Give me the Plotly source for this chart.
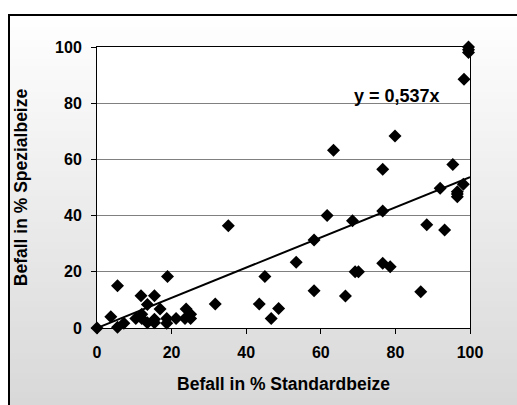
import plotly.graph_objects as go

# Befall (%) mit Standardbeize vs. Spezialbeize
standard = [0, 3.7, 5.5, 5.5, 7.2, 10.4, 11.8, 12.0, 12.0, 13.5, 13.5, 15.4, 15.4, 15.4,
            16.9, 18.7, 18.7, 18.9, 21.2, 23.6, 23.9, 25.1, 25.1, 31.7, 35.2, 43.5,
            45.0, 46.7, 48.7, 53.4, 58.2, 58.2, 61.7, 63.4, 66.6, 68.5, 69.2, 70.1,
            76.6, 76.6, 76.6, 78.6, 79.9, 86.8, 88.4, 92.0, 93.2, 95.4, 96.6, 96.6,
            96.6, 98.2, 98.4, 99.6, 99.6, 99.6]
spezial = [0, 4.0, 15.0, 0.3, 1.7, 3.4, 11.5, 4.9, 3.4, 8.4, 1.9, 11.5, 1.9, 3.1,
           6.8, 3.4, 1.7, 18.3, 3.4, 3.4, 6.8, 4.9, 3.4, 8.5, 36.4, 8.5,
           18.3, 3.4, 6.9, 23.4, 31.3, 13.3, 40.0, 63.3, 11.4, 38.2, 20.0, 20.0,
           56.5, 41.6, 23.0, 21.8, 68.3, 12.9, 36.7, 49.7, 34.9, 58.2, 48.5, 47.7,
           46.7, 51.2, 88.5, 100.0, 99.0, 98.0]

slope = 0.537
trend_x = [0, 100]
trend_y = [slope * v for v in trend_x]

x_ticks = [0, 20, 40, 60, 80, 100]
y_ticks = [0, 20, 40, 60, 80, 100]

FONT = "Liberation Sans, Arial, sans-serif"

fig = go.Figure()
fig.add_trace(go.Scatter(
    x=trend_x, y=trend_y, mode="lines",
    line=dict(color="black", width=2), hoverinfo="skip", showlegend=False,
))
fig.add_trace(go.Scatter(
    x=standard, y=spezial, mode="markers",
    marker=dict(symbol="diamond", size=10, color="black"),
    showlegend=False, cliponaxis=False,
))

# chart-area background: vertical white-to-grey gradient, then the frame
L, R, T, B = 97, 470, 47, 328
W, H = 517, 405


def px_x(px):
    return (px - L) / (R - L)


def px_y(py):
    return (B - py) / (B - T)


shapes = []
n_bands = 60
top_px, bot_px = 14, 405
for i in range(n_bands):
    y0 = top_px + (bot_px - top_px) * i / n_bands
    y1 = top_px + (bot_px - top_px) * (i + 1) / n_bands + 1
    t = (i + 0.5) / n_bands
    g = round(255 - t * (255 - 216))
    shapes.append(dict(
        type="rect", xref="paper", yref="paper", layer="below",
        x0=px_x(8), x1=px_x(540), y0=px_y(y1), y1=px_y(y0),
        fillcolor=f"rgb({g},{g},{g})", line=dict(width=0),
    ))
# white plot area
shapes.append(dict(
    type="rect", xref="paper", yref="paper", layer="below",
    x0=0, x1=1, y0=0, y1=1, fillcolor="white", line=dict(width=0),
))
# outer frame
shapes.append(dict(
    type="rect", xref="paper", yref="paper", layer="above",
    x0=px_x(9), x1=px_x(560), y0=px_y(440), y1=px_y(15),
    fillcolor="rgba(0,0,0,0)", line=dict(color="black", width=2),
))

fig.update_layout(
    width=W, height=H,
    margin=dict(l=L, r=W - R, t=T, b=H - B),
    paper_bgcolor="white", plot_bgcolor="white",
    font=dict(family=FONT, color="black"),
    shapes=shapes,
    annotations=[dict(
        x=80.5, y=82.5, xref="x", yref="y", text="<b>y = 0,537x</b>",
        showarrow=False, xanchor="center", yanchor="middle",
        font=dict(size=18, family=FONT, color="black"),
    )],
)
fig.update_xaxes(
    range=[0, 100], tickvals=x_ticks, ticktext=[f"<b>{v}</b>" for v in x_ticks],
    showgrid=False, zeroline=False,
    showline=True, linecolor="black", linewidth=1, mirror=True,
    ticks="outside", ticklen=5, tickcolor="black",
    tickfont=dict(size=16, family=FONT), ticklabelstandoff=5,
    title=dict(text="<b>Befall in % Standardbeize</b>", font=dict(size=17.5, family=FONT), standoff=17),
)
fig.update_yaxes(
    range=[0, 100], tickvals=y_ticks, ticktext=[f"<b>{v}</b>" for v in y_ticks],
    showgrid=True, gridcolor="#808080", gridwidth=1, zeroline=False,
    showline=True, linecolor="black", linewidth=1, mirror=True,
    ticks="outside", ticklen=5, tickcolor="black",
    tickfont=dict(size=16, family=FONT), ticklabelstandoff=6,
    title=dict(text="<b>Befall in % Spezialbeize</b>", font=dict(size=17.5, family=FONT), standoff=22),
)

fig.write_html("out.html")
